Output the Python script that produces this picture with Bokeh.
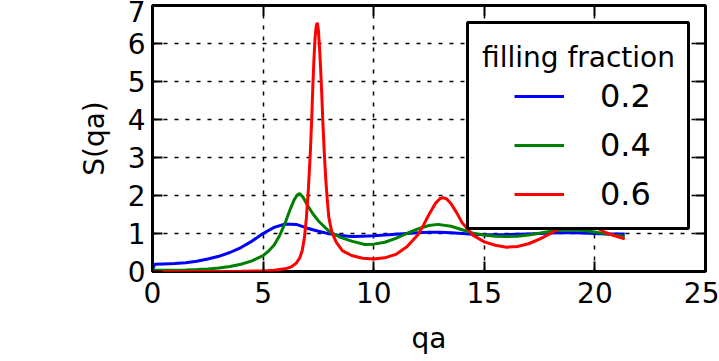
from bokeh.plotting import figure
from bokeh.models import (LinearAxis, FixedTicker, Range1d, Legend, LegendItem,
                          BoxAnnotation, Label)
from bokeh.embed import file_html
from bokeh.resources import INLINE

# Structure factor S(qa) for three filling fractions
qa_02 = [0.0, 0.1, 0.5, 1.0, 1.5, 2.0, 2.5, 3.0, 3.5, 4.0, 4.5, 5.0, 5.5, 6.0, 6.5,
         7.0, 7.5, 8.0, 8.5, 9.0, 9.5, 10.0, 10.5, 11.0, 11.5, 12.0, 12.5, 13.0,
         13.5, 14.0, 14.5, 15.0, 15.5, 16.0, 16.5, 17.0, 17.5, 18.0, 18.5, 19.0,
         19.5, 20.0, 20.5, 21.0, 21.35]
s_02 = [0.05, 0.19, 0.20, 0.21, 0.23, 0.27, 0.33, 0.40, 0.50, 0.63, 0.80, 1.00,
        1.16, 1.25, 1.24, 1.14, 1.06, 0.99, 0.95, 0.92, 0.93, 0.94, 0.96, 0.98,
        1.00, 1.02, 1.03, 1.03, 1.02, 1.00, 0.98, 0.97, 0.97, 0.97, 0.98, 0.99,
        1.00, 1.01, 1.02, 1.02, 1.01, 1.00, 0.99, 0.99, 0.99]

qa_04 = [0.0, 0.5, 1.0, 1.5, 2.0, 2.5, 3.0, 3.5, 4.0, 4.5, 5.0, 5.25, 5.5, 5.75,
         6.0, 6.2, 6.4, 6.55, 6.65, 6.8, 7.0, 7.25, 7.5, 8.0, 8.5, 9.0, 9.6, 10.0,
         10.5, 11.0, 11.5, 12.0, 12.5, 12.9, 13.5, 14.0, 14.5, 15.0, 15.5, 16.0,
         16.5, 17.0, 17.5, 18.0, 18.5, 19.0, 19.5, 20.0, 20.5, 21.0, 21.35]
s_04 = [0.03, 0.03, 0.035, 0.04, 0.05, 0.065, 0.09, 0.13, 0.19, 0.28, 0.42, 0.54,
        0.70, 0.95, 1.28, 1.60, 1.88, 2.02, 2.05, 1.96, 1.75, 1.52, 1.33, 1.05,
        0.90, 0.80, 0.71, 0.72, 0.77, 0.87, 1.00, 1.12, 1.21, 1.24, 1.19, 1.10,
        1.01, 0.96, 0.93, 0.92, 0.93, 0.96, 1.01, 1.06, 1.09, 1.10, 1.08, 1.04,
        0.99, 0.95, 0.92]

qa_06 = [0.0, 1.0, 2.0, 3.0, 4.0, 5.0, 5.5, 6.0, 6.3, 6.5, 6.65, 6.77, 6.87, 6.96,
         7.05, 7.14, 7.2, 7.25, 7.3, 7.35, 7.4, 7.45, 7.5, 7.55, 7.6, 7.65, 7.7,
         7.76, 7.83, 7.9, 7.97, 8.1, 8.3, 8.58, 9.0, 9.5, 10.0, 10.5, 11.0, 11.5,
         12.0, 12.25, 12.5, 12.8, 13.0, 13.14, 13.3, 13.5, 13.75, 14.0, 14.5, 15.0,
         15.5, 16.0, 16.5, 17.0, 17.5, 18.0, 18.5, 19.0, 19.5, 20.0, 20.5, 21.0,
         21.35]
s_06 = [0.0, 0.0, 0.0, 0.0, 0.005, 0.015, 0.03, 0.07, 0.13, 0.22, 0.35, 0.55, 0.9,
        1.43, 2.2, 3.19, 4.05, 4.9, 5.6, 6.15, 6.45, 6.55, 6.35, 5.9, 5.35, 4.7,
        3.95, 3.19, 2.45, 1.9, 1.43, 1.05, 0.78, 0.55, 0.42, 0.35, 0.33, 0.36,
        0.45, 0.65, 0.97, 1.22, 1.5, 1.8, 1.92, 1.94, 1.91, 1.78, 1.55, 1.28,
        0.95, 0.78, 0.69, 0.64, 0.66, 0.73, 0.85, 1.00, 1.17, 1.28, 1.29, 1.18,
        1.02, 0.92, 0.86]

labels = ["0.2", "0.4", "0.6"]
colors = ["#0000ff", "#008000", "#ff0000"]
x_ticks = [0, 5, 10, 15, 20, 25]
y_ticks = [0, 1, 2, 3, 4, 5, 6, 7]

FONT = "DejaVu Sans"

p = figure(width=719, height=361, x_range=Range1d(0, 25), y_range=Range1d(0, 7),
           output_backend="svg", toolbar_location=None,
           min_border_left=152, min_border_right=14,
           min_border_top=5, min_border_bottom=90)

p.outline_line_color = "black"
p.outline_line_width = 3
p.outline_line_alpha = 1

bottom_axis = p.below[0]
left_axis = p.left[0]
bottom_axis.ticker = FixedTicker(ticks=x_ticks)
left_axis.ticker = FixedTicker(ticks=y_ticks)
bottom_axis.axis_label = "qa"
left_axis.axis_label = "S(qa)"

# Mirror ticks on the top and right edges (no labels there)
top_axis = LinearAxis(ticker=FixedTicker(ticks=x_ticks))
right_axis = LinearAxis(ticker=FixedTicker(ticks=y_ticks))
for ax in (top_axis, right_axis):
    ax.major_label_text_font_size = "1px"
    ax.major_label_text_color = None
    ax.major_label_standoff = 0
    ax.axis_label_standoff = 0
p.add_layout(top_axis, "above")
p.add_layout(right_axis, "right")

for ax in (bottom_axis, left_axis, top_axis, right_axis):
    ax.axis_line_color = None
    ax.major_tick_in = 10
    ax.major_tick_out = 0
    ax.major_tick_line_width = 2
    ax.major_tick_line_color = "black"
    ax.minor_tick_line_color = None

for ax in (bottom_axis, left_axis):
    ax.major_label_text_font = FONT
    ax.major_label_text_font_size = "28px"
    ax.major_label_text_color = "black"
    ax.axis_label_text_font = FONT
    ax.axis_label_text_font_style = "normal"
    ax.axis_label_text_color = "black"
    ax.axis_label_text_font_size = "28px"

bottom_axis.major_label_standoff = 10
bottom_axis.axis_label_standoff = 16
left_axis.major_label_standoff = 7
left_axis.axis_label_standoff = 14

p.grid.grid_line_color = "black"
p.grid.grid_line_dash = "4 7"
p.grid.grid_line_width = 1.5

renderers = []
for xs, ys, c in ((qa_02, s_02, colors[0]), (qa_04, s_04, colors[1]),
                  (qa_06, s_06, colors[2])):
    renderers.append(p.line(xs, ys, line_color=c, line_width=3))

# Legend frame, entries and title
box = BoxAnnotation(left=315, right=536, top=249, bottom=43,
                    left_units="screen", right_units="screen",
                    top_units="screen", bottom_units="screen",
                    fill_color="white", fill_alpha=1.0,
                    line_color="black", line_width=3, line_alpha=1.0)
p.add_layout(box)

legend = Legend(items=[LegendItem(label=l, renderers=[r])
                       for l, r in zip(labels, renderers)],
                location=(362, 57), padding=0, margin=0, spacing=9,
                glyph_width=50, glyph_height=40, label_standoff=36,
                label_text_font=FONT, label_text_font_size="32px",
                label_text_color="black",
                border_line_color=None, background_fill_alpha=0)
p.add_layout(legend)

title = Label(x=426, y=214, x_units="screen", y_units="screen",
              text="filling fraction", text_font=FONT, text_font_size="28px",
              text_align="center", text_baseline="alphabetic",
              text_color="black")
p.add_layout(title)

open("out.html", "w").write(file_html(p, INLINE))
